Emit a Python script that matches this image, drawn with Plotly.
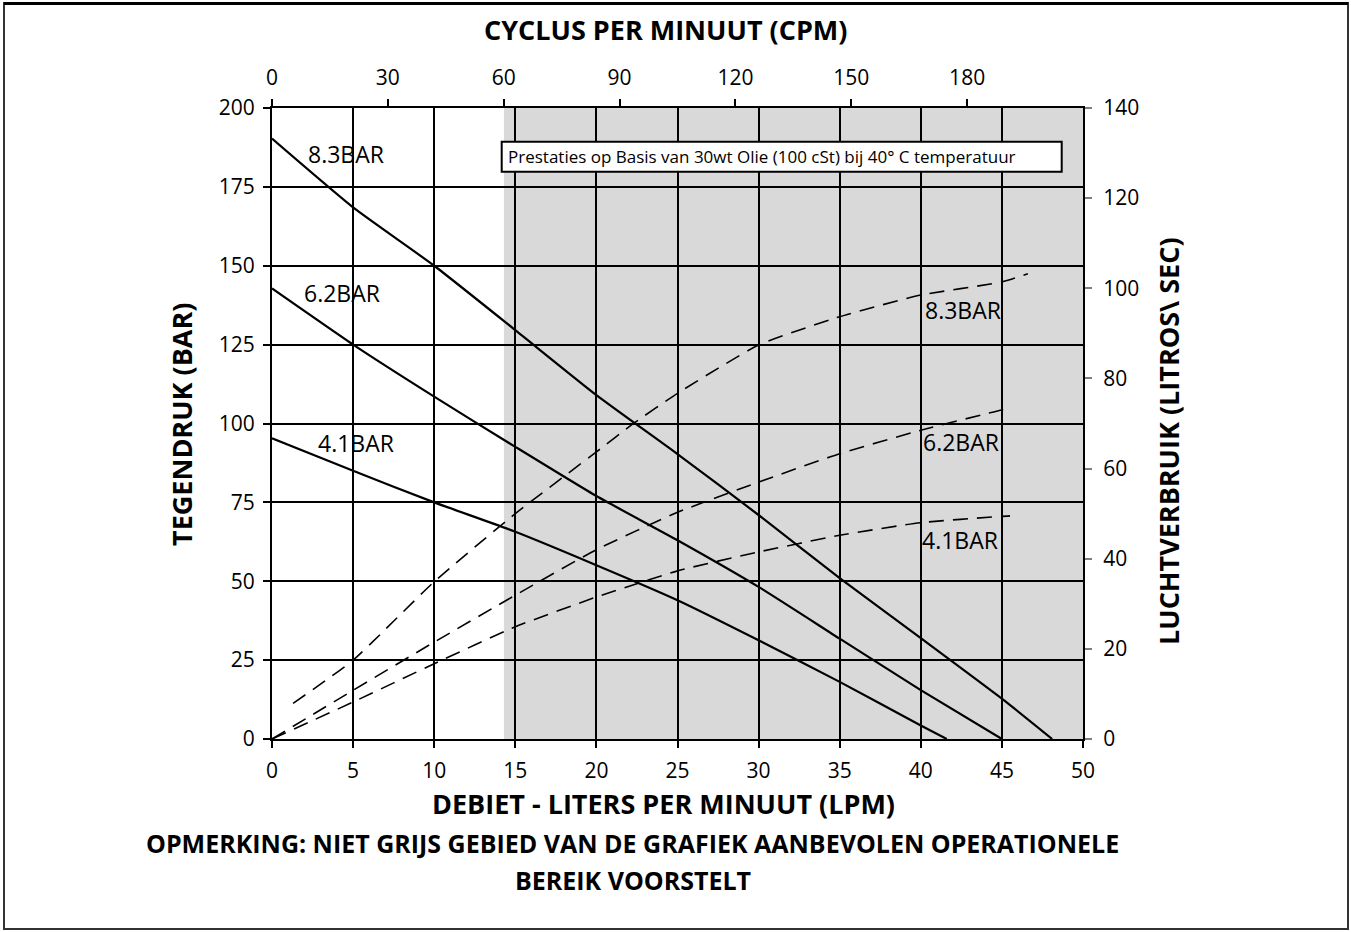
import plotly.graph_objects as go

# Flow (LPM) vs back pressure (bar), solid lines
LPM_83 = [0, 5, 10, 15, 20, 25, 30, 35, 40, 45, 48.1]
BAR_83 = [190.3, 168.5, 150, 129.6, 109, 90.3, 71, 51, 32, 12.8, 0]
LPM_62 = [0, 5, 10, 15, 20, 25, 30, 35, 40, 45]
BAR_62 = [142.8, 125, 108.5, 92.6, 77, 63, 48.2, 31.8, 15.5, 0]
LPM_41 = [0, 5, 10, 15, 20, 25, 30, 35, 40, 41.6]
BAR_41 = [95.3, 85, 75, 65.7, 55.1, 44, 31.3, 18.1, 4.3, 0]

# Flow (LPM) vs air consumption (l/s), dashed lines
AIR_LPM_83 = [1.3, 5, 10, 15, 20, 22.25, 25, 30, 35, 40, 45, 46.6]
AIR_83 = [7.9, 17.5, 34.9, 50, 63.7, 69.9, 76.7, 87.4, 93.7, 98.5, 101.4, 103.2]
AIR_LPM_62 = [0, 5, 10, 15, 20, 25, 30, 35, 40, 45, 45.5]
AIR_62 = [0, 10.8, 21.5, 31.9, 42, 50.3, 57, 63.3, 68.5, 73, 73.3]
AIR_LPM_41 = [0, 5, 10, 15, 20, 25, 30, 35, 40, 45, 45.5]
AIR_41 = [0, 8.2, 16.7, 24.9, 31.5, 37.3, 41.5, 45.2, 48, 49.4, 49.5]

CPM_TICKS = [0, 30, 60, 90, 120, 150, 180]
GREY_FROM = 14.3  # LPM where the grey zone starts

FONT = "Open Sans"
BLACK = "#000000"
GREY = "#d9d9d9"

# plot area in px (from the reference)
W, H = 1351, 932
L, R, T, B = 272, 1083, 108, 739


def px_x(px):
    return (px - L) / (R - L)


def px_y(py):
    return (B - py) / (B - T)


fig = go.Figure()

solid = dict(color=BLACK, width=2.2)
for xs, ys, name in [(LPM_83, BAR_83, "8.3BAR"), (LPM_62, BAR_62, "6.2BAR"),
                     (LPM_41, BAR_41, "4.1BAR")]:
    fig.add_trace(go.Scatter(x=xs, y=ys, mode="lines", line=solid,
                             line_shape="spline", line_smoothing=0.5,
                             name=name, showlegend=False))

dashed = dict(color=BLACK, width=1.6, dash="15px,9px")
for xs, ys, name in [(AIR_LPM_83, AIR_83, "8.3BAR air"), (AIR_LPM_62, AIR_62, "6.2BAR air"),
                     (AIR_LPM_41, AIR_41, "4.1BAR air")]:
    fig.add_trace(go.Scatter(x=xs, y=ys, mode="lines", line=dashed, yaxis="y2",
                             line_shape="spline", line_smoothing=0.5,
                             name=name, showlegend=False))

# dummy trace so the top CPM axis is drawn
fig.add_trace(go.Scatter(x=CPM_TICKS, y=[None] * len(CPM_TICKS), xaxis="x2",
                         mode="lines", showlegend=False, hoverinfo="skip"))

tickfont = dict(family=FONT, size=21, color=BLACK)
title_font = dict(family=FONT, size=27, color=BLACK, weight="bold")
note_font = dict(family=FONT, size=25, color=BLACK, weight="bold")

fig.update_layout(
    width=W, height=H,
    margin=dict(l=L, r=W - R, t=T, b=H - B, pad=0),
    paper_bgcolor="white",
    plot_bgcolor="white",
    showlegend=False,
    xaxis=dict(
        range=[0, 50], dtick=5, showgrid=True, gridcolor=BLACK, gridwidth=2,
        showline=True, linecolor=BLACK, linewidth=2, zeroline=False,
        ticks="outside", ticklen=7, tickcolor=BLACK, tickwidth=2, tickfont=tickfont,
        ticklabelstandoff=5,
    ),
    xaxis2=dict(
        range=[0, 210], tickvals=CPM_TICKS, overlaying="x", side="top", anchor="y",
        showgrid=False, showline=True, linecolor=BLACK, linewidth=2, zeroline=False,
        ticks="outside", ticklen=7, tickcolor=BLACK, tickwidth=2, tickfont=tickfont,
        ticklabelstandoff=6,
    ),
    yaxis=dict(
        range=[0, 200], dtick=25, showgrid=True, gridcolor=BLACK, gridwidth=2,
        showline=True, linecolor=BLACK, linewidth=2, zeroline=False,
        ticks="outside", ticklen=7, tickcolor=BLACK, tickwidth=2, tickfont=tickfont,
        ticklabelstandoff=4,
    ),
    yaxis2=dict(
        range=[0, 140], dtick=20, overlaying="y", side="right", anchor="x",
        showgrid=False, showline=True, linecolor=BLACK, linewidth=2, zeroline=False,
        ticks="outside", ticklen=7, tickcolor="#7f7f7f", tickwidth=2, tickfont=tickfont,
        ticklabelstandoff=7,
    ),
)

# grey (not recommended) operating zone
fig.add_shape(type="rect", xref="x", yref="y", x0=GREY_FROM, x1=50, y0=0, y1=200,
              fillcolor=GREY, line=dict(width=0), layer="below")

# conditions box
fig.add_shape(type="rect", xref="paper", yref="paper",
              x0=px_x(501.7), x1=px_x(1061.7), y0=px_y(171.7), y1=px_y(141.7),
              fillcolor="white", line=dict(color=BLACK, width=2), layer="above")
fig.add_annotation(text="Prestaties op Basis van 30wt Olie (100 cSt) bij 40° C temperatuur",
                   xref="paper", yref="paper", x=px_x(506), y=px_y(156.7),
                   xanchor="left", yanchor="middle", showarrow=False,
                   font=dict(family=FONT, size=17, color=BLACK))

# outer frame (top edge drawn a bit heavier, as in the original)
fig.add_shape(type="rect", xref="paper", yref="paper",
              x0=px_x(4), x1=px_x(1348), y0=px_y(929), y1=px_y(3),
              line=dict(color="#333333", width=2), fillcolor="rgba(0,0,0,0)")
fig.add_shape(type="line", xref="paper", yref="paper",
              x0=px_x(4), x1=px_x(1348), y0=px_y(3.5), y1=px_y(3.5),
              line=dict(color=BLACK, width=3))

# curve labels
label_font = dict(family=FONT, size=23, color=BLACK)
for x, y, txt in [(4.57, 185.4, "8.3BAR"), (4.3, 141.5, "6.2BAR"), (5.2, 93.7, "4.1BAR"),
                  (42.6, 136, "8.3BAR"), (42.5, 94.2, "6.2BAR"), (42.4, 63, "4.1BAR")]:
    fig.add_annotation(text=txt, x=x, y=y, xref="x", yref="y", showarrow=False,
                       font=label_font)

# titles
titles = [
    ("CYCLUS PER MINUUT (CPM)", 665, 30, 0, title_font),
    ("TEGENDRUK (BAR)", 182, 425, -90, title_font),
    ("LUCHTVERBRUIK (LITROS\\ SEC)", 1168, 441, -90, title_font),
    ("DEBIET - LITERS PER MINUUT (LPM)", 663, 803, 0, title_font),
    ("OPMERKING: NIET GRIJS GEBIED VAN DE GRAFIEK AANBEVOLEN OPERATIONELE", 632, 843, 0, note_font),
    ("BEREIK VOORSTELT", 633, 880, 0, note_font),
]
for txt, px, py, ang, fnt in titles:
    fig.add_annotation(text=txt, xref="paper", yref="paper", x=px_x(px), y=px_y(py),
                       xanchor="center", yanchor="middle", textangle=ang,
                       showarrow=False, font=fnt)

# the page body has an 8px default margin; drop it so the figure sits at 0,0
fig.write_html("out.html", config={"displayModeBar": False},
               post_script="document.body.style.margin='0px';")
